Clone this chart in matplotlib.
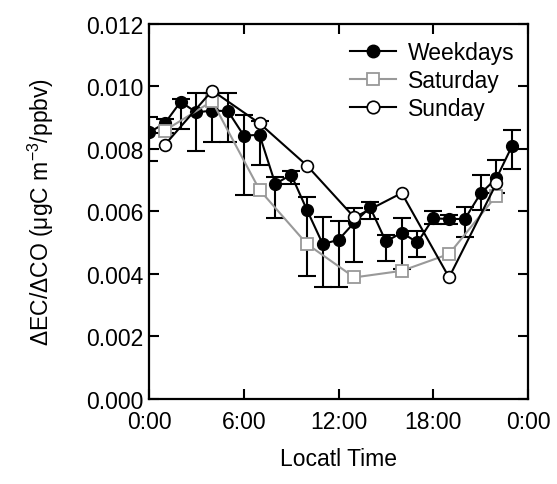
import matplotlib
matplotlib.use('Agg')
import matplotlib.pyplot as plt
from matplotlib.lines import Line2D
import numpy as np

plt.rcParams['font.family'] = ['Liberation Sans', 'DejaVu Sans']
plt.rcParams['mathtext.fontset'] = 'custom'
plt.rcParams['mathtext.rm'] = 'Liberation Sans'
plt.rcParams['mathtext.it'] = 'Liberation Sans'

# weekday hourly means with lower / upper error bounds
wd_hours = list(range(24))
wd_values = [0.00853, 0.00882, 0.00951, 0.00917, 0.00923, 0.00921, 0.00843, 0.00845,
             0.00688, 0.00718, 0.00605, 0.00496, 0.00509, 0.00565, 0.00613, 0.00504,
             0.00532, 0.00501, 0.00578, 0.00576, 0.00576, 0.00658, 0.00706, 0.00811]
wd_lower = [0.00763, 0.00850, 0.00864, 0.00795, 0.00823, 0.00821, 0.00654, 0.00750,
            0.00578, 0.00688, 0.00395, 0.00357, 0.00359, 0.00437, 0.00576, 0.00443,
            0.00415, 0.00453, 0.00560, 0.00560, 0.00517, 0.00606, 0.00660, 0.00736]
wd_upper = [0.00901, 0.00896, 0.00960, 0.00978, 0.00980, 0.00978, 0.00909, 0.00890,
            0.00710, 0.00730, 0.00647, 0.00581, 0.00570, 0.00610, 0.00630, 0.00525,
            0.00578, 0.00537, 0.00603, 0.00590, 0.00613, 0.00717, 0.00765, 0.00862]

sat_hours = [1, 4, 7, 10, 13, 16, 19, 22]
sat_values = [0.00859, 0.00953, 0.00669, 0.00496, 0.00389, 0.00410, 0.00464, 0.00651]

sun_hours = [1, 4, 7, 10, 13, 16, 19, 22]
sun_values = [0.00813, 0.00987, 0.00882, 0.00747, 0.00581, 0.00659, 0.00389, 0.00690]

tick_hours = [0, 6, 12, 18, 24]
tick_labels = ['0:00', '6:00', '12:00', '18:00', '0:00']

wd_v = np.array(wd_values)
yerr = [wd_v - np.array(wd_lower), np.array(wd_upper) - wd_v]

fig = plt.figure(figsize=(5.57, 4.85), dpi=100)
ax = fig.add_axes([0.2675, 0.1753, 0.6805, 0.7732])

ax.errorbar(wd_hours, wd_values, yerr=yerr, color='black', lw=1.5,
            marker='o', ms=8.5, mfc='black', mec='black',
            ecolor='black', elinewidth=1.5, capsize=6.5, capthick=1.5, zorder=2)
ax.plot(sat_hours, sat_values, color='#999999', lw=1.5, marker='s', ms=8,
        mfc='white', mec='#999999', mew=1.3, zorder=3)
ax.plot(sun_hours, sun_values, color='black', lw=1.5, marker='o', ms=8.5,
        mfc='white', mec='black', mew=1.2, zorder=4)

ax.set_xlim(0, 24)
ax.set_ylim(0, 0.012)
ax.set_xticks(tick_hours)
ax.set_xticklabels(tick_labels)
ax.set_yticks(np.arange(0, 0.0121, 0.002))
ax.set_yticklabels(['%.3f' % v for v in np.arange(0, 0.0121, 0.002)])

ax.tick_params(direction='in', length=7, width=1.5, labelsize=16.5,
               top=True, right=True)
ax.tick_params(axis='x', pad=8)
ax.tick_params(axis='y', pad=4)
for s in ax.spines.values():
    s.set_linewidth(1.6)

ax.set_xlabel('Locatl Time', fontsize=16.5, labelpad=10)
ax.set_ylabel('ΔEC/ΔCO (μgC m$^{-3}$/ppbv)', fontsize=16.5, labelpad=22)

handles = [
    Line2D([], [], color='black', lw=1.5, marker='o', ms=9, mfc='black', mec='black'),
    Line2D([], [], color='#999999', lw=1.5, marker='s', ms=8, mfc='white', mec='#999999', mew=1.3),
    Line2D([], [], color='black', lw=1.5, marker='o', ms=9, mfc='white', mec='black', mew=1.2),
]
ax.legend(handles, ['Weekdays', 'Saturday', 'Sunday'], loc='upper right', frameon=False,
          fontsize=16.5, handlelength=2.0, handletextpad=0.5, labelspacing=0.2,
          borderaxespad=0.2, bbox_to_anchor=(1.0, 0.99))

fig.savefig('out.png', dpi=100)
